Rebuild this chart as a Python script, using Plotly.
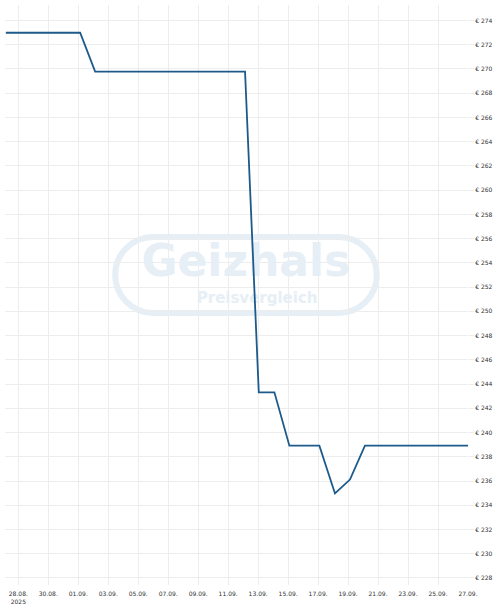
import plotly.graph_objects as go

# price history (vertices of the step line)
dates = [
    "2025-08-27 04:00", "2025-09-01 03:00", "2025-09-02 03:00", "2025-09-12 03:00",
    "2025-09-13 01:00", "2025-09-14 02:00", "2025-09-15 02:00", "2025-09-17 02:00",
    "2025-09-18 03:00", "2025-09-19 03:00", "2025-09-20 03:00", "2025-09-27 00:00",
]
prices = [272.99, 272.99, 269.79, 269.79, 243.32, 243.32, 238.92, 238.92,
          234.97, 236.12, 238.92, 238.92]

tick_dates = ["2025-08-28", "2025-08-30", "2025-09-01", "2025-09-03", "2025-09-05",
              "2025-09-07", "2025-09-09", "2025-09-11", "2025-09-13", "2025-09-15",
              "2025-09-17", "2025-09-19", "2025-09-21", "2025-09-23", "2025-09-25",
              "2025-09-27"]
tick_labels = ["28.08.<br>2025", "30.08.", "01.09.", "03.09.", "05.09.", "07.09.",
               "09.09.", "11.09.", "13.09.", "15.09.", "17.09.", "19.09.", "21.09.",
               "23.09.", "25.09.", "27.09."]
y_ticks = list(range(228, 276, 2))

LINE = "#1c5a8b"
GRID = "#ededed"
WM = "#e6eef6"

fig = go.Figure()

# watermark text, drawn as a trace so the price line sits on top of it
fig.add_trace(go.Scatter(
    x=["2025-09-12 04:20"], y=[253.84], mode="text", text=["<b>Geizhals</b>"],
    textfont=dict(family="DejaVu Sans", size=44, color=WM),
    hoverinfo="skip", showlegend=False,
))
fig.add_trace(go.Scatter(
    x=["2025-09-12 22:20"], y=[251.0], mode="text", text=["<b>Preisvergleich</b>"],
    textfont=dict(family="DejaVu Sans", size=15, color=WM),
    hoverinfo="skip", showlegend=False,
))

fig.add_trace(go.Scatter(
    x=dates, y=prices, mode="lines",
    line=dict(color=LINE, width=1.8),
    hoverinfo="skip", showlegend=False,
))

# watermark pill outline (paper coords)
x0, x1, y0, y1 = 0.238, 0.803, 0.469, 0.600
rx, ry = 0.082, 0.0655
k = 0.55
pill = (f"M {x0+rx},{y1} L {x1-rx},{y1} "
        f"C {x1-rx+rx*k},{y1} {x1},{y1-ry+ry*k} {x1},{y1-ry} "
        f"C {x1},{y0+ry-ry*k} {x1-rx+rx*k},{y0} {x1-rx},{y0} "
        f"L {x0+rx},{y0} "
        f"C {x0+rx-rx*k},{y0} {x0},{y0+ry-ry*k} {x0},{y0+ry} "
        f"C {x0},{y1-ry+ry*k} {x0+rx-rx*k},{y1} {x0+rx},{y1} Z")
fig.add_shape(type="path", path=pill, xref="paper", yref="paper",
              line=dict(color=WM, width=6), layer="below")

fig.update_layout(
    width=500, height=611,
    margin=dict(l=5, r=32, t=5, b=26),
    paper_bgcolor="white", plot_bgcolor="white",
    font=dict(family="DejaVu Sans", size=6, color="#333333"),
    xaxis=dict(
        range=["2025-08-27 02:40", "2025-09-27 00:00"],
        tickvals=tick_dates, ticktext=tick_labels,
        showgrid=True, gridcolor=GRID, gridwidth=1,
        zeroline=False, showline=False, ticks="outside", ticklen=3, tickcolor="white",
        tickfont=dict(size=6, color="#333333"),
    ),
    yaxis=dict(
        side="right", range=[227.42, 275.28],
        tickvals=y_ticks, ticktext=[f"€ {v}" for v in y_ticks],
        showgrid=True, gridcolor=GRID, gridwidth=1,
        zeroline=False, showline=False,
        ticks="outside", ticklen=5, tickcolor=GRID,
        tickfont=dict(size=6, color="#333333"),
    ),
)

fig.write_html("out.html", config={"displayModeBar": False},
               post_script="document.body.style.margin='0';")
